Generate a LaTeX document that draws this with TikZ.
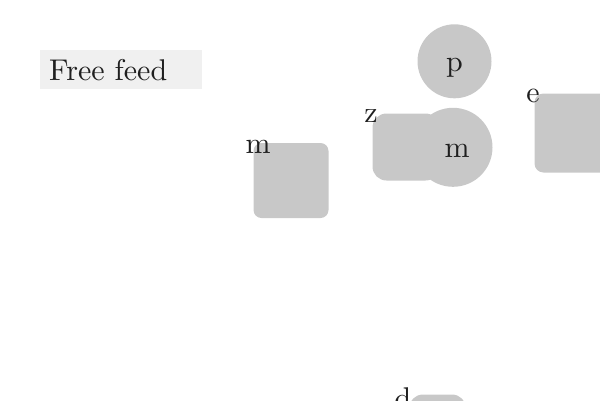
\documentclass[tikz,border=0pt]{standalone}
\usepackage{fontspec}
\setmainfont{lmroman10-regular.otf}
\usepackage{tikz}
\definecolor{shapegray}{RGB}{200,200,200}
\definecolor{feedgray}{RGB}{240,240,240}

\begin{document}
\begin{tikzpicture}[x=1pt,y=-1pt,
  every node/.style={font=\fontsize{30}{36}\selectfont, text=black!88},
  sq/.style={fill=shapegray, rounded corners=#1, inner sep=0pt},
  rnd/.style={fill=shapegray, circle, inner sep=0pt},
  tag/.style={anchor=base, inner sep=0pt}]
\useasboundingbox (0,0) rectangle (600,400);
\node [fill=feedgray, minimum width=162pt, minimum height=39pt, inner sep=0pt] (feedbox) at (121,69.5) {};
\node [anchor=base west, inner sep=0pt] (feed) at (49,80) {Free feed};
% left square
\node [sq=8pt, minimum size=75pt] (mbox) at (291,180.5) {};
\node [tag] (mtag) at (258,153) {m};
% top circle
\node [rnd, minimum size=74pt] (pcirc) at (454.5,61.3) {};
\node [tag] (ptag) at (454.5,71) {p};
% middle pair
\node [sq=14pt, minimum size=67pt] (zbox) at (406,147) {};
\node [rnd, minimum size=79pt] (mcirc) at (453,147.3) {};
\node [tag] (ztag) at (371,122) {z};
\node [tag] (mtag2) at (457,157.5) {m};
% right square
\node [sq=9pt, minimum size=79pt] (ebox) at (574,133) {};
\node [tag] (etag) at (533,102.5) {e};
% bottom
\node [sq=14pt, minimum size=57pt] (dbox) at (437.5,423) {};
\node [tag] (dtag) at (403,408) {d};
\end{tikzpicture}
\end{document}
